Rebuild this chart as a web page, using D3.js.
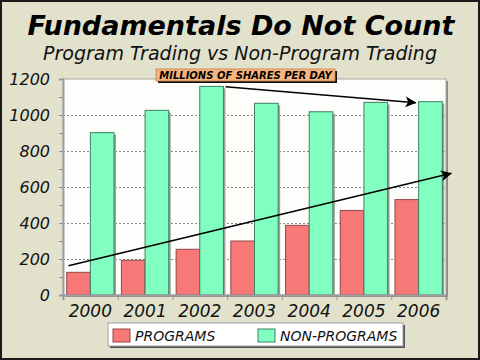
<!DOCTYPE html>
<html><head><meta charset="utf-8">
<script src="https://cdn.jsdelivr.net/npm/d3@7"></script>
<style>html,body{margin:0;padding:0;background:#e2e2cc;}svg{display:block;}</style>
</head><body>
<script>
const years = ["2000","2001","2002","2003","2004","2005","2006"];
const programs = [126, 193, 254, 300, 387, 470, 530];
const nonPrograms = [902, 1026, 1159, 1065, 1018, 1070, 1074];
const seriesNames = ["PROGRAMS", "NON-PROGRAMS"];
const yTicks = [0, 200, 400, 600, 800, 1000, 1200];
const title = "Fundamentals Do Not Count";
const subtitle = "Program Trading vs Non-Program Trading";
const unitLabel = "MILLIONS OF SHARES PER DAY";
// trend arrows: [category position (0..7), value]
const arrowNonProg = [[2.97, 1157], [6.45, 1068]];
const arrowProg = [[0.10, 163], [7.10, 676]];

const W = 480, H = 360;
const m = {l: 63, r: 446, t: 79, b: 295};
const colors = ["#f87878", "#80ffc0"];
const strokes = ["#904848", "#3c8060"];

const svg = d3.select("body").append("svg").attr("width", W).attr("height", H);
svg.append("rect").attr("x", 1).attr("y", 1).attr("width", W - 2).attr("height", H - 2)
  .attr("fill", "#e2e2cc").attr("stroke", "#1a1a1a").attr("stroke-width", 2);

const x = d3.scaleBand().domain(years).range([m.l, m.r]).paddingInner(0).paddingOuter(0);
const y = d3.scaleLinear().domain([0, 1200]).range([m.b, m.t]);
const xi = d3.scaleLinear().domain([0, years.length]).range([m.l, m.r]);
const sub = d3.scaleBand().domain(seriesNames).range([3.7, x.bandwidth() - 3.7]);

// plot background
svg.append("rect").attr("x", m.l + 2).attr("y", m.t + 2).attr("width", m.r - m.l).attr("height", m.b - m.t)
  .attr("fill", "#8a8a80");
svg.append("rect").attr("x", m.l).attr("y", m.t).attr("width", m.r - m.l).attr("height", m.b - m.t)
  .attr("fill", "#fdfdfb").attr("stroke", "#a8a8a0").attr("stroke-width", 1);

// gridlines
svg.append("g").selectAll("line").data(yTicks.filter(v => v > 0 && v < 1200)).join("line")
  .attr("x1", m.l).attr("x2", m.r).attr("y1", d => y(d) + 0.5).attr("y2", d => y(d) + 0.5)
  .attr("stroke", "#8a8a8a").attr("stroke-dasharray", "2,2").attr("stroke-width", 1);

// bars
const data = years.map((yr, i) => ({yr, vals: [programs[i], nonPrograms[i]]}));
const grp = svg.append("g").selectAll("g").data(data).join("g")
  .attr("transform", d => `translate(${x(d.yr)},0)`);
seriesNames.forEach((s, k) => {
  grp.append("rect").attr("x", d => sub(s) + 2).attr("y", d => y(d.vals[k]) + 2)
    .attr("width", sub.bandwidth()).attr("height", d => y(0) - y(d.vals[k]) - 2)
    .attr("fill", "#a0a098");
});
seriesNames.forEach((s, k) => {
  grp.append("rect").attr("x", d => sub(s)).attr("y", d => y(d.vals[k]))
    .attr("width", sub.bandwidth()).attr("height", d => y(0) - y(d.vals[k]))
    .attr("fill", colors[k]).attr("stroke", strokes[k]).attr("stroke-width", 1);
});

// axes
const yAxis = d3.axisLeft(y).tickValues(d3.range(0, 1201, 100)).tickSize(4).tickFormat("");
const ya = svg.append("g").attr("transform", `translate(${m.l},0)`).call(yAxis);
ya.selectAll("line").attr("stroke", "#909090");
ya.select(".domain").attr("stroke", "#a0a0a0").attr("stroke-width", 2);
svg.append("g").selectAll("text").data(yTicks).join("text")
  .attr("x", 50).attr("y", d => y(d)).attr("dy", "0.36em").attr("text-anchor", "end")
  .attr("font-family", "DejaVu Sans").attr("font-style", "italic").attr("font-size", 16)
  .attr("fill", "#111").text(d => d);

const xa = svg.append("g").attr("transform", `translate(0,${m.b})`)
  .call(d3.axisBottom(xi).tickValues(d3.range(0, years.length + 1)).tickSize(5).tickFormat(""));
xa.selectAll("line").attr("stroke", "#909090");
xa.select(".domain").attr("stroke", "#a0a0a0").attr("stroke-width", 2);
svg.append("g").selectAll("text").data(years).join("text")
  .attr("x", d => x(d) + x.bandwidth() / 2).attr("y", 316.5).attr("text-anchor", "middle")
  .attr("font-family", "DejaVu Sans").attr("font-style", "italic").attr("font-size", 17)
  .attr("fill", "#111").text(d => d);

// arrows
const defs = svg.append("defs");
defs.append("marker").attr("id", "ah").attr("viewBox", "0 0 10 10").attr("refX", 9.5).attr("refY", 5)
  .attr("markerWidth", 17).attr("markerHeight", 11).attr("markerUnits", "userSpaceOnUse")
  .attr("orient", "auto").append("path").attr("d", "M0,0 L10,5 L0,10 L2.5,5 Z").attr("fill", "#000");
[arrowNonProg, arrowProg].forEach(a => {
  svg.append("line").attr("x1", xi(a[0][0])).attr("y1", y(a[0][1]))
    .attr("x2", xi(a[1][0])).attr("y2", y(a[1][1]))
    .attr("stroke", "#000").attr("stroke-width", 1.6).attr("marker-end", "url(#ah)");
});

// unit label
const lb = {x: 156, y: 69, w: 179, h: 12};
svg.append("rect").attr("x", lb.x + 2).attr("y", lb.y + 2).attr("width", lb.w).attr("height", lb.h).attr("fill", "#111");
svg.append("rect").attr("x", lb.x).attr("y", lb.y).attr("width", lb.w).attr("height", lb.h)
  .attr("fill", "#f8b47c").attr("stroke", "#c08050").attr("stroke-width", 0.8);
svg.append("text").attr("x", lb.x + lb.w / 2).attr("y", lb.y + 10).attr("text-anchor", "middle")
  .attr("font-family", "DejaVu Sans").attr("font-weight", "bold").attr("font-style", "italic")
  .attr("font-size", 10).attr("fill", "#000").text(unitLabel);

// titles
svg.append("text").attr("x", 241).attr("y", 34.5).attr("text-anchor", "middle")
  .attr("font-family", "DejaVu Sans").attr("font-weight", "bold").attr("font-style", "italic")
  .attr("font-size", 27).attr("fill", "#000").text(title);
svg.append("text").attr("x", 240).attr("y", 60).attr("text-anchor", "middle")
  .attr("font-family", "DejaVu Sans").attr("font-style", "italic")
  .attr("font-size", 19).attr("fill", "#111").text(subtitle);

// legend
const lg = {x: 108, y: 323, w: 295, h: 23};
svg.append("rect").attr("x", lg.x + 2).attr("y", lg.y + 2).attr("width", lg.w).attr("height", lg.h).attr("fill", "#555");
svg.append("rect").attr("x", lg.x).attr("y", lg.y).attr("width", lg.w).attr("height", lg.h)
  .attr("fill", "#fff").attr("stroke", "#a0a0a0");
const legX = [113, 258];
seriesNames.forEach((s, k) => {
  svg.append("rect").attr("x", legX[k]).attr("y", 329).attr("width", 17).attr("height", 13)
    .attr("fill", colors[k]).attr("stroke", strokes[k]);
  svg.append("text").attr("x", legX[k] + 22).attr("y", 340.5)
    .attr("font-family", "DejaVu Sans").attr("font-style", "italic").attr("font-size", 14)
    .attr("fill", "#111").text(s);
});
</script>
</body></html>
